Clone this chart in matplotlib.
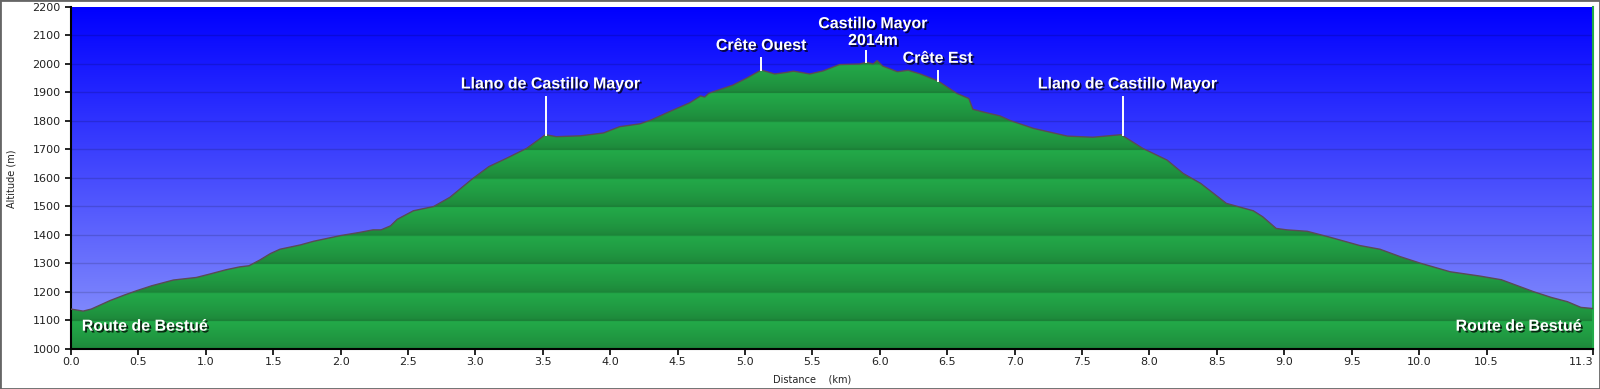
import numpy as np
import matplotlib
matplotlib.use("Agg")
import matplotlib.pyplot as plt
import matplotlib.patheffects as pe
from matplotlib.patches import Polygon, Rectangle

# ---- data ----
distance_km = [0.00, 0.09, 0.15, 0.29, 0.40, 0.49, 0.60, 0.76, 0.93, 1.03, 1.15, 1.25, 1.32,
               1.40, 1.48, 1.55, 1.70, 1.80, 1.90, 2.00, 2.14, 2.24, 2.30, 2.37, 2.42, 2.54,
               2.69, 2.81, 2.98, 3.10, 3.23, 3.38, 3.52, 3.60, 3.78, 3.95, 4.07, 4.22, 4.30,
               4.44, 4.59, 4.67, 4.70, 4.73, 4.81, 4.91, 5.01, 5.12, 5.22, 5.30, 5.36, 5.48,
               5.58, 5.70, 5.85, 5.90, 5.95, 5.98, 6.02, 6.13, 6.21, 6.30, 6.43, 6.57, 6.66,
               6.69, 6.79, 6.89, 6.97, 7.14, 7.39, 7.58, 7.79, 7.95, 8.13, 8.25, 8.38, 8.57,
               8.77, 8.84, 8.94, 9.02, 9.17, 9.34, 9.56, 9.71, 9.86, 10.01, 10.23, 10.45,
               10.61, 10.85, 10.98, 11.10, 11.20, 11.29]
altitude_m = [1140, 1133, 1140, 1170, 1190, 1205, 1222, 1242, 1251, 1263, 1278, 1288, 1292,
              1312, 1335, 1350, 1365, 1378, 1388, 1398, 1409, 1418, 1418, 1432, 1455, 1485,
              1500, 1532, 1598, 1640, 1669, 1704, 1752, 1745, 1748, 1758, 1780, 1790, 1803,
              1833, 1864, 1888, 1884, 1897, 1910, 1926, 1950, 1979, 1965, 1970, 1975, 1965,
              1976, 1998, 2000, 2006, 2000, 2012, 1993, 1973, 1978, 1965, 1941, 1897, 1879,
              1841, 1829, 1818, 1801, 1774, 1747, 1743, 1752, 1704, 1663, 1616, 1581, 1511,
              1485, 1464, 1423, 1418, 1413, 1392, 1363, 1350, 1324, 1301, 1271, 1256,
              1243, 1201, 1181, 1166, 1146, 1142]

waypoint_names = ["Llano de Castillo Mayor", "Crête Ouest", "Castillo Mayor\n2014m",
                  "Crête Est", "Llano de Castillo Mayor"]
waypoint_km = [3.52, 5.12, 5.90, 6.43, 7.80]
waypoint_alt = [1752, 1979, 2006, 1941, 1752]
waypoint_label_alt = [1930, 2065, 2112, 2020, 1930]

end_names = ["Route de Bestué", "Route de Bestué"]

x_ticks = [0.0, 0.5, 1.0, 1.5, 2.0, 2.5, 3.0, 3.5, 4.0, 4.5, 5.0, 5.5, 6.0, 6.5, 7.0,
           7.5, 8.0, 8.5, 9.0, 9.5, 10.0, 10.5, 11.29]
y_ticks = list(range(1000, 2201, 100))

xmax = distance_km[-1]
ymin, ymax = 1000, 2200

fig = plt.figure(figsize=(16, 3.89), dpi=100)
ax = fig.add_axes([71 / 1600, 1 - 349 / 389, (1593 - 71) / 1600, (349 - 7) / 389])
ax.set_xlim(0, xmax)
ax.set_ylim(ymin, ymax)

# sky gradient
n = 400
t = np.linspace(0, 1, n)[:, None]  # 0 bottom -> 1 top
top = np.array([0, 0, 255]) / 255
bot = np.array([142, 152, 252]) / 255
sky = (bot + (top - bot) * t)[:, None, :].repeat(2, axis=1)
ax.imshow(sky, extent=[0, xmax, ymin, ymax], origin='lower', aspect='auto', zorder=0)

# ground banded gradient
alts = np.linspace(ymin, ymax, 1200)
f = ((alts - 1000) % 100) / 100.0
g = f ** 0.7
dark = np.array([29, 132, 57]) / 255
bright = np.array([35, 170, 73]) / 255
ground = (dark + (bright - dark) * g[:, None])[:, None, :].repeat(2, axis=1)
im = ax.imshow(ground, extent=[0, xmax, ymin, ymax], origin='lower', aspect='auto', zorder=1)
verts = [(0, ymin)] + list(zip(distance_km, altitude_m)) + [(xmax, ymin)]
poly = Polygon(verts, closed=True, facecolor='none', edgecolor='none', transform=ax.transData)
ax.add_patch(poly)
im.set_clip_path(poly)

# gridlines
for yv in y_ticks[1:-1]:
    ax.axhline(yv, color=(0, 0, 0), alpha=0.14, lw=1.0, zorder=2)

# outline
ax.plot(distance_km, altitude_m, color='#5a4a55', lw=1.0, zorder=3)

shadow = [pe.withSimplePatchShadow(offset=(1.3, -1.3), shadow_rgbFace='black', alpha=0.75)]
font = dict(family=['Liberation Sans', 'DejaVu Sans'], fontsize=11.5, fontweight='bold', color='white')

for name, xk, ya, yl in zip(waypoint_names, waypoint_km, waypoint_alt, waypoint_label_alt):
    top_line = yl - 45 if '\n' not in name else yl - 65
    ax.plot([xk, xk], [ya, top_line], color='white', lw=1.4, zorder=4)
    dx = 0.04 if name.startswith('Llano') else (0.05 if '\n' in name else 0.0)
    ax.text(xk + dx, yl, name, ha='center', va='center', zorder=5, linespacing=1.15,
            path_effects=shadow, **font)

ax.text(0.08, 1080, end_names[0], ha='left', va='center', zorder=5, path_effects=shadow, **font)
ax.text(xmax - 0.08, 1080, end_names[1], ha='right', va='center', zorder=5, path_effects=shadow, **font)

# axes styling
ax.set_xticks(x_ticks)
ax.set_xticklabels([f"{v:.1f}" for v in x_ticks])
ax.get_xticklabels()[-1].set_horizontalalignment('right')
ax.set_yticks(y_ticks)
ax.set_yticklabels([str(v) for v in y_ticks])
ax.tick_params(direction='out', length=4, width=1.2, labelsize=8, labelcolor='#222222')
ax.tick_params(axis='x', pad=2)
ax.spines['top'].set_visible(False)
ax.spines['left'].set_linewidth(1.5)
ax.spines['bottom'].set_linewidth(1.5)
ax.spines['right'].set_color('#22aa48')
ax.spines['right'].set_linewidth(1.5)

fig.text(12 / 1600, 1 - 179 / 389, "Altitude (m)", rotation=90, ha='center', va='center',
         fontsize=7, color='#222222')
fig.text(812 / 1600, 1 - 379 / 389, "Distance    (km)", ha='center', va='center',
         fontsize=7, color='#222222')

fig.patches.append(Rectangle((0, 0), 1, 1, transform=fig.transFigure, fill=False,
                             edgecolor='#666666', lw=2))

fig.savefig("out.png", dpi=100)
